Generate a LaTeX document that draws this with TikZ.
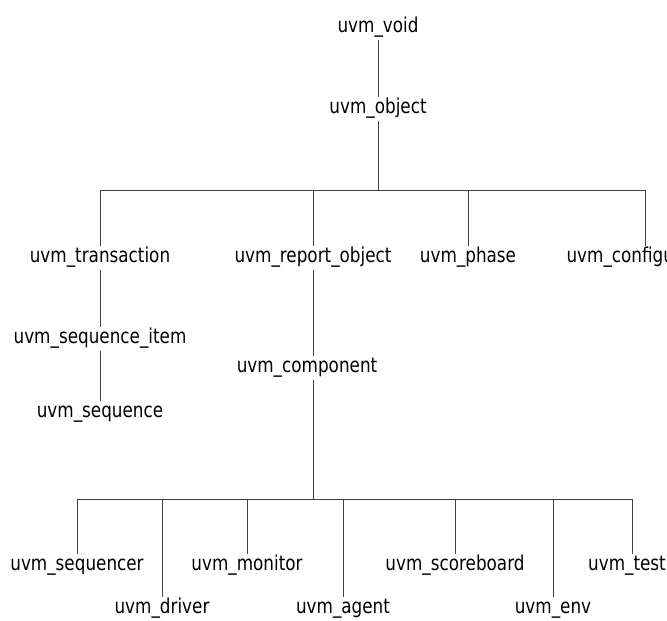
\documentclass[tikz,border=0pt]{standalone}
\usepackage{fontspec}
\setmainfont{DejaVu Sans}[FakeStretch=0.82]
\usepackage{xcolor}
\usetikzlibrary{positioning}

\begin{document}
\begin{tikzpicture}[x=1pt, y=-1pt, every node/.style={font=\fontsize{20.5}{23}\selectfont, inner sep=2pt, text height=14pt, text depth=5pt}]
    \useasboundingbox (0,0) rectangle (667,621);
    \clip (0,0) rectangle (667,621);
    \fill[white] (0,0) rectangle (667,621);
    \tikzset{link/.style={draw=black!75, line width=0.8pt}}
    \node (void) at (378,28) {uvm\_void};
    \node (object) at (378,109) {uvm\_object};
    \node (transaction) at (100,258) {uvm\_transaction};
    \node (report) at (313,258) {uvm\_report\_object};
    \node (phase) at (468,258) {uvm\_phase};
    \node (config) at (645,258) {uvm\_configuration};
    \node (seqitem) at (100,339) {uvm\_sequence\_item};
    \node (sequence) at (100,413) {uvm\_sequence};
    \node (component) at (307,368) {uvm\_component};
    \node (sequencer) at (77,566) {uvm\_sequencer};
    \node (monitor) at (247,566) {uvm\_monitor};
    \node (scoreboard) at (455,566) {uvm\_scoreboard};
    \node (test) at (627,566) {uvm\_test};
    \node (driver) at (162,609) {uvm\_driver};
    \node (agent) at (343,609) {uvm\_agent};
    \node (env) at (553,609) {uvm\_env};
    \coordinate (barA) at (0,190);
    \coordinate (barB) at (0,499);
    \draw[link] (void) -- (object);
    \draw[link] (object) -- (object |- barA);
    \draw[link] (transaction.north |- barA) -- (config.north |- barA);
    \draw[link] (transaction.north |- barA) -- (transaction.north);
    \draw[link] (report.north |- barA) -- (report.north);
    \draw[link] (phase.north |- barA) -- (phase.north);
    \draw[link] (config.north |- barA) -- (config.north);
    \draw[link] (transaction) -- (seqitem);
    \draw[link] (seqitem) -- (sequence);
    \draw[link] (report.south) -- (report.south |- component.north);
    \draw[link] (report.south |- component.south) -- (report.south |- barB);
    \draw[link] (sequencer.north |- barB) -- ([xshift=5pt]test.north |- barB);
    \draw[link] (sequencer.north |- barB) -- (sequencer.north);
    \draw[link] (driver.north |- barB) -- (driver.north);
    \draw[link] (monitor.north |- barB) -- (monitor.north);
    \draw[link] (agent.north |- barB) -- (agent.north);
    \draw[link] (scoreboard.north |- barB) -- (scoreboard.north);
    \draw[link] (env.north |- barB) -- (env.north);
    \draw[link] ([xshift=5pt]test.north |- barB) -- ([xshift=5pt]test.north);
\end{tikzpicture}
\end{document}
